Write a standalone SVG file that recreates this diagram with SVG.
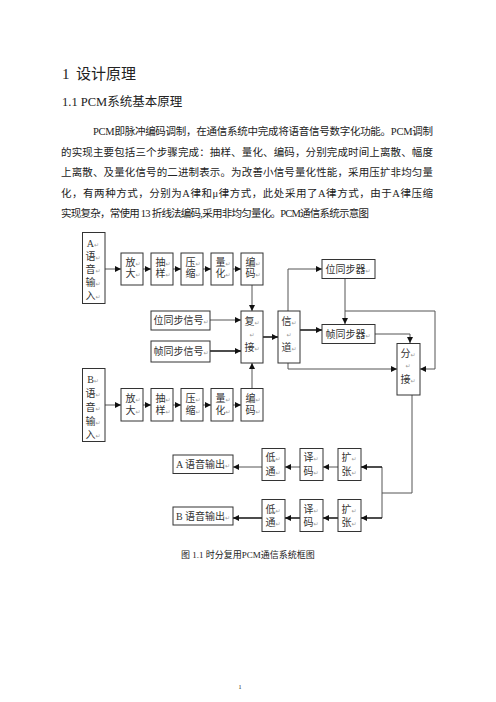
<svg xmlns="http://www.w3.org/2000/svg" width="496" height="702" viewBox="0 0 496 702">
<defs>
<style>
.t{font-family:"Liberation Serif","Noto Sans CJK SC",serif;fill:#222}
.b{font-family:"Liberation Serif","Noto Sans CJK SC",serif;font-size:10px;fill:#333}
.r{font-size:6px;fill:#999;font-family:"DejaVu Sans",sans-serif}
.box{fill:#fff;stroke:#333;stroke-width:1}
.ln{fill:none;stroke:#555;stroke-width:1}
.lk{fill:none;stroke:#111;stroke-width:1.5}
</style>
<marker id="ar" viewBox="0 0 10 10" refX="10" refY="5" markerWidth="6" markerHeight="6" markerUnits="userSpaceOnUse" orient="auto">
<path d="M0,0 L10,5 L0,10 z" fill="#111"/>
</marker>
</defs>
<rect width="496" height="702" fill="#fff"/>
<g id="text">
<text class="t" x="62" y="79" font-size="15">1<tspan x="76">设计原理</tspan></text>
<text class="t" x="62" y="106" font-size="12.5">1.1 PCM系统基本原理</text>
<text class="t" x="93" y="135" font-size="10.5" textLength="340" lengthAdjust="spacing">PCM即脉冲编码调制，在通信系统中完成将语音信号数字化功能。PCM调制</text>
<text class="t" x="61" y="156" font-size="10.5" textLength="372" lengthAdjust="spacing">的实现主要包括三个步骤完成：抽样、量化、编码，分别完成时间上离散、幅度</text>
<text class="t" x="61" y="176" font-size="10.5" textLength="372" lengthAdjust="spacing">上离散、及量化信号的二进制表示。为改善小信号量化性能，采用压扩非均匀量</text>
<text class="t" x="61" y="197" font-size="10.5" textLength="372" lengthAdjust="spacing">化，有两种方式，分别为A律和μ律方式，此处采用了A律方式，由于A律压缩</text>
<text class="t" x="61" y="217" font-size="10.5" textLength="308" lengthAdjust="spacing">实现复杂，常使用 13 折线法编码,采用非均匀量化。PCM通信系统示意图</text>
<text class="t" x="248" y="558" font-size="9" fill="#555" text-anchor="middle">图 1.1 时分复用PCM通信系统框图</text>
<text class="t" x="240" y="689" font-size="6" fill="#bbb" text-anchor="middle">1</text>
</g>
<g id="connectors">
<path class="ln" d="M105,269 H121" marker-end="url(#ar)"/>
<path class="ln" d="M143,269 H151" marker-end="url(#ar)"/>
<path class="ln" d="M173,269 H181" marker-end="url(#ar)"/>
<path class="ln" d="M203,269 H211" marker-end="url(#ar)"/>
<path class="ln" d="M233,269 H241" marker-end="url(#ar)"/>
<path class="ln" d="M105,405 H121" marker-end="url(#ar)"/>
<path class="ln" d="M143,405 H151" marker-end="url(#ar)"/>
<path class="ln" d="M173,405 H181" marker-end="url(#ar)"/>
<path class="ln" d="M203,405 H211" marker-end="url(#ar)"/>
<path class="ln" d="M233,405 H241" marker-end="url(#ar)"/>
<path class="ln" d="M252,285 V311" marker-end="url(#ar)"/>
<path class="ln" d="M252,388 V363" marker-end="url(#ar)"/>
<path class="ln" d="M210,320 H241" marker-end="url(#ar)"/>
<path class="lk" d="M210,351 H241" marker-end="url(#ar)"/>
<path class="lk" d="M263,337 H278" marker-end="url(#ar)"/>
<path class="ln" d="M288,311 V269 H322" marker-end="url(#ar)"/>
<path class="lk" d="M300,330 H322" marker-end="url(#ar)"/>
<path class="ln" d="M345,278 V324" marker-end="url(#ar)"/>
<path class="ln" d="M345,311 H435 V369 H420" marker-end="url(#ar)"/>
<path class="ln" d="M375,334 H410 V343" marker-end="url(#ar)"/>
<path class="ln" d="M288,363 V369 H397" marker-end="url(#ar)"/>
<path class="ln" d="M412,395 V493 H382"/>
<path class="ln" d="M382,467 V518"/>
<path class="lk" d="M382,467 H361" marker-end="url(#ar)"/>
<path class="lk" d="M382,518 H361" marker-end="url(#ar)"/>
<path class="ln" d="M338,467 H323" marker-end="url(#ar)"/>
<path class="ln" d="M300,467 H285" marker-end="url(#ar)"/>
<path class="ln" d="M262,467 H233" marker-end="url(#ar)"/>
<path class="lk" d="M338,518 H323" marker-end="url(#ar)"/>
<path class="lk" d="M300,518 H285" marker-end="url(#ar)"/>
<path class="lk" d="M262,518 H233" marker-end="url(#ar)"/>
</g>
<g id="a-in"><rect class="box" x="82.5" y="232.5" width="22.5" height="71"/>
<text class="b" x="93" y="247" text-anchor="middle">A<tspan class="r">↵</tspan></text>
<text class="b" x="93" y="260" text-anchor="middle">语<tspan class="r">↵</tspan></text>
<text class="b" x="93" y="273" text-anchor="middle">音<tspan class="r">↵</tspan></text>
<text class="b" x="93" y="286" text-anchor="middle">输<tspan class="r">↵</tspan></text>
<text class="b" x="93" y="299" text-anchor="middle">入<tspan class="r">↵</tspan></text></g>
<g id="a-amp"><rect class="box" x="121" y="253" width="22" height="32"/>
<text class="b" x="133" y="266" text-anchor="middle">放<tspan class="r">↵</tspan></text><text class="b" x="133" y="277" text-anchor="middle">大<tspan class="r">↵</tspan></text></g>
<g id="a-sam"><rect class="box" x="151" y="253" width="22" height="32"/>
<text class="b" x="163" y="266" text-anchor="middle">抽<tspan class="r">↵</tspan></text><text class="b" x="163" y="277" text-anchor="middle">样<tspan class="r">↵</tspan></text></g>
<g id="a-cmp"><rect class="box" x="181" y="253" width="22" height="32"/>
<text class="b" x="193" y="266" text-anchor="middle">压<tspan class="r">↵</tspan></text><text class="b" x="193" y="277" text-anchor="middle">缩<tspan class="r">↵</tspan></text></g>
<g id="a-qua"><rect class="box" x="211" y="253" width="22" height="32"/>
<text class="b" x="223" y="266" text-anchor="middle">量<tspan class="r">↵</tspan></text><text class="b" x="223" y="277" text-anchor="middle">化<tspan class="r">↵</tspan></text></g>
<g id="a-enc"><rect class="box" x="241" y="253" width="22" height="32"/>
<text class="b" x="253" y="266" text-anchor="middle">编<tspan class="r">↵</tspan></text><text class="b" x="253" y="277" text-anchor="middle">码<tspan class="r">↵</tspan></text></g>
<g id="bit-sig"><rect class="box" x="151" y="311" width="59" height="19"/>
<text class="b" x="181" y="324" text-anchor="middle">位同步信号<tspan class="r">↵</tspan></text></g>
<g id="frm-sig"><rect class="box" x="151" y="341" width="59" height="21"/>
<text class="b" x="181" y="355" text-anchor="middle">帧同步信号<tspan class="r">↵</tspan></text></g>
<g id="mux"><rect class="box" x="241" y="311" width="22" height="52"/>
<text class="b" x="252" y="325" text-anchor="middle">复<tspan class="r">↵</tspan></text>
<text class="b" x="252" y="337" text-anchor="middle"><tspan class="r">↵</tspan></text>
<text class="b" x="252" y="351" text-anchor="middle">接<tspan class="r">↵</tspan></text></g>
<g id="chan"><rect class="box" x="278" y="311" width="22" height="52"/>
<text class="b" x="289" y="325" text-anchor="middle">信<tspan class="r">↵</tspan></text>
<text class="b" x="289" y="337" text-anchor="middle"><tspan class="r">↵</tspan></text>
<text class="b" x="289" y="351" text-anchor="middle">道<tspan class="r">↵</tspan></text></g>
<g id="bit-sync"><rect class="box" x="322" y="259.5" width="53" height="19"/>
<text class="b" x="348" y="273" text-anchor="middle">位同步器<tspan class="r">↵</tspan></text></g>
<g id="frm-sync"><rect class="box" x="322" y="324.5" width="53" height="19"/>
<text class="b" x="348" y="338" text-anchor="middle">帧同步器<tspan class="r">↵</tspan></text></g>
<g id="demux"><rect class="box" x="397" y="343.5" width="23" height="51.5"/>
<text class="b" x="408" y="357" text-anchor="middle">分<tspan class="r">↵</tspan></text>
<text class="b" x="408" y="368" text-anchor="middle"><tspan class="r">↵</tspan></text>
<text class="b" x="408" y="383" text-anchor="middle">接<tspan class="r">↵</tspan></text></g>
<g id="b-in"><rect class="box" x="82.5" y="368.5" width="22.5" height="73"/>
<text class="b" x="93" y="383" text-anchor="middle">B<tspan class="r">↵</tspan></text>
<text class="b" x="93" y="397" text-anchor="middle">语<tspan class="r">↵</tspan></text>
<text class="b" x="93" y="411" text-anchor="middle">音<tspan class="r">↵</tspan></text>
<text class="b" x="93" y="425" text-anchor="middle">输<tspan class="r">↵</tspan></text>
<text class="b" x="93" y="438" text-anchor="middle">入<tspan class="r">↵</tspan></text></g>
<g id="b-amp"><rect class="box" x="121" y="388.5" width="22" height="32.5"/>
<text class="b" x="133" y="402" text-anchor="middle">放<tspan class="r">↵</tspan></text><text class="b" x="133" y="414" text-anchor="middle">大<tspan class="r">↵</tspan></text></g>
<g id="b-sam"><rect class="box" x="151" y="388.5" width="22" height="32.5"/>
<text class="b" x="163" y="402" text-anchor="middle">抽<tspan class="r">↵</tspan></text><text class="b" x="163" y="414" text-anchor="middle">样<tspan class="r">↵</tspan></text></g>
<g id="b-cmp"><rect class="box" x="181" y="388.5" width="22" height="32.5"/>
<text class="b" x="193" y="402" text-anchor="middle">压<tspan class="r">↵</tspan></text><text class="b" x="193" y="414" text-anchor="middle">缩<tspan class="r">↵</tspan></text></g>
<g id="b-qua"><rect class="box" x="211" y="388.5" width="22" height="32.5"/>
<text class="b" x="223" y="402" text-anchor="middle">量<tspan class="r">↵</tspan></text><text class="b" x="223" y="414" text-anchor="middle">化<tspan class="r">↵</tspan></text></g>
<g id="b-enc"><rect class="box" x="241" y="388.5" width="22" height="32.5"/>
<text class="b" x="253" y="402" text-anchor="middle">编<tspan class="r">↵</tspan></text><text class="b" x="253" y="414" text-anchor="middle">码<tspan class="r">↵</tspan></text></g>
<g id="a-exp"><rect class="box" x="338" y="448.5" width="23" height="32"/>
<text class="b" x="349" y="461" text-anchor="middle">扩<tspan class="r">↵</tspan></text><text class="b" x="349" y="475" text-anchor="middle">张<tspan class="r">↵</tspan></text></g>
<g id="a-dec"><rect class="box" x="300" y="448.5" width="23" height="32"/>
<text class="b" x="311" y="461" text-anchor="middle">译<tspan class="r">↵</tspan></text><text class="b" x="311" y="475" text-anchor="middle">码<tspan class="r">↵</tspan></text></g>
<g id="a-lpf"><rect class="box" x="262" y="448.5" width="23" height="32"/>
<text class="b" x="273" y="461" text-anchor="middle">低<tspan class="r">↵</tspan></text><text class="b" x="273" y="475" text-anchor="middle">通<tspan class="r">↵</tspan></text></g>
<g id="a-out"><rect class="box" x="173" y="455" width="60" height="18.5"/>
<text class="b" x="203" y="468" text-anchor="middle">A 语音输出<tspan class="r">↵</tspan></text></g>
<g id="b-exp"><rect class="box" x="338" y="499.5" width="23" height="32"/>
<text class="b" x="349" y="513" text-anchor="middle">扩<tspan class="r">↵</tspan></text><text class="b" x="349" y="526" text-anchor="middle">张<tspan class="r">↵</tspan></text></g>
<g id="b-dec"><rect class="box" x="300" y="499.5" width="23" height="32"/>
<text class="b" x="311" y="513" text-anchor="middle">译<tspan class="r">↵</tspan></text><text class="b" x="311" y="526" text-anchor="middle">码<tspan class="r">↵</tspan></text></g>
<g id="b-lpf"><rect class="box" x="262" y="499.5" width="23" height="32"/>
<text class="b" x="273" y="513" text-anchor="middle">低<tspan class="r">↵</tspan></text><text class="b" x="273" y="526" text-anchor="middle">通<tspan class="r">↵</tspan></text></g>
<g id="b-out"><rect class="box" x="173" y="507" width="60" height="18"/>
<text class="b" x="203" y="520" text-anchor="middle">B 语音输出<tspan class="r">↵</tspan></text></g>
</svg>
